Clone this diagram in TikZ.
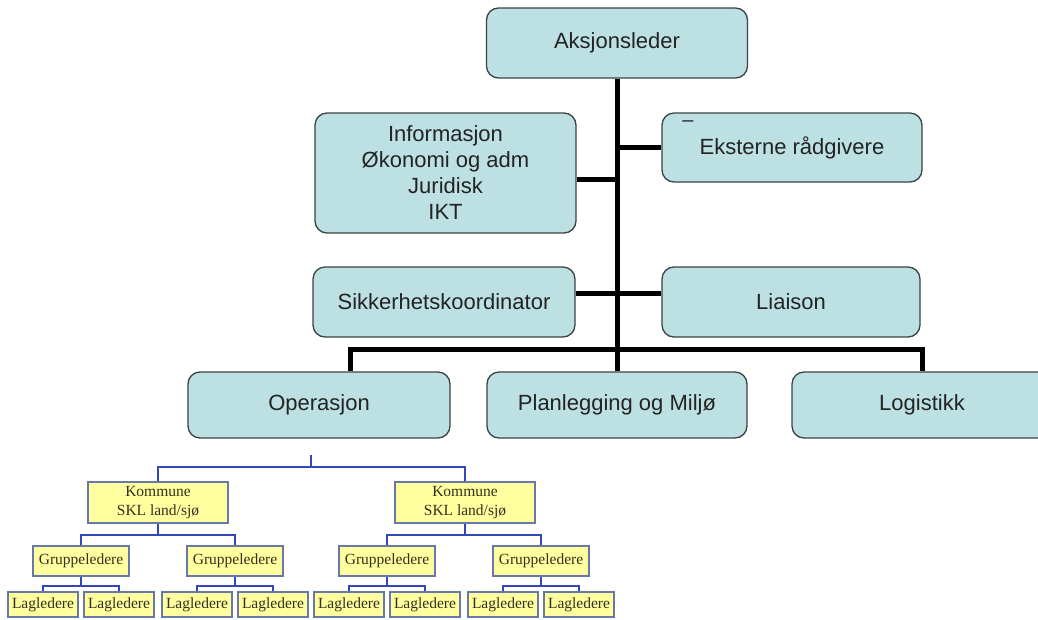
\documentclass[tikz,border=0pt]{standalone}
\usepackage{fontspec}
\setmainfont{Liberation Sans}
\newfontfamily\yelfont{Liberation Serif}

\definecolor{boxcyan}{RGB}{189,225,227}
\definecolor{boxline}{RGB}{60,66,68}
\definecolor{txtgray}{RGB}{35,35,35}
\definecolor{yelfill}{RGB}{255,255,160}
\definecolor{yelline}{RGB}{104,120,168}
\definecolor{orgblue}{RGB}{50,72,184}
\definecolor{yeltxt}{RGB}{50,48,25}

\begin{document}
\begin{tikzpicture}[x=1pt, y=-1pt,
    topbox/.style={draw=boxline, line width=1.3pt, fill=boxcyan, rounded corners=12pt,
        minimum width=261pt, minimum height=70pt, inner sep=0pt, align=center,
        text=txtgray, font=\fontsize{22}{26}\selectfont},
    yelbox/.style={draw=yelline, line width=1.5pt, fill=yelfill, inner sep=0pt,
        align=center, text=yeltxt, font=\yelfont\fontsize{15.5}{19}\selectfont},
    mainline/.style={black, line width=5pt},
    subline/.style={orgblue, line width=2pt}]

    % 1. Frame
    \clip (0,0) rectangle (1038,619);

    % 2. Upper boxes
    \node[topbox] (ak)   at (617,43)    {Aksjonsleder};
    \node[topbox, minimum height=120pt] (info) at (445.5,173)
        {Informasjon\\Økonomi og adm\\Juridisk\\IKT};
    \node[topbox, minimum width=260pt, minimum height=69pt] (ext) at (792,147.5)
        {Eksterne rådgivere};
    \node[text=txtgray, font=\fontsize{20}{24}\selectfont, inner sep=0pt] (extdash)
        at (688,124) {–};
    \node[topbox, minimum width=262pt] (sik) at (444,302) {Sikkerhetskoordinator};
    \node[topbox, minimum width=258pt] (lia) at (791,302) {Liaison};

    % 3. Sections
    \node[topbox, minimum width=262pt, minimum height=66pt] (op)   at (319,405) {Operasjon};
    \node[topbox, minimum width=260pt, minimum height=66pt] (plan) at (617,405) {Planlegging og Miljø};
    \node[topbox, minimum width=260pt, minimum height=66pt] (log)  at (922,405) {Logistikk};

    % 4. Black connectors
    \coordinate (infoC) at ([yshift=-6pt]info.east);
    \coordinate (bar)   at (617,349);
    \draw[mainline] (ak.south) -- (plan.north);
    \draw[mainline] (ext.west) -- (ext.west -| ak.south);
    \draw[mainline] (infoC) -- (infoC -| ak.south);
    \draw[mainline] ([yshift=9pt]sik.east) -- ([yshift=9pt]lia.west);
    \draw[mainline] ([xshift=31pt]op.north) |- (bar) -| (log.north);

    % 5. Yellow boxes under Operasjon
    \node[yelbox, minimum width=140pt, minimum height=41pt] (k1) at (158,502.5)
        {Kommune\\SKL land/sjø};
    \node[yelbox, minimum width=140pt, minimum height=41pt] (k2) at (465,502.5)
        {Kommune\\SKL land/sjø};
    \foreach \i/\x in {1/81, 2/235, 3/387, 4/541}
        \node[yelbox, minimum width=96pt, minimum height=30pt] (g\i) at (\x,561) {Gruppeledere};
    \foreach \i/\x in {1/43, 2/119, 3/197, 4/273, 5/349, 6/425, 7/503, 8/579}
        \node[yelbox, minimum width=70pt, minimum height=25pt] (l\i) at (\x,604.5) {Lagledere};

    % 6. Blue connectors
    \coordinate (opT) at (311,455);
    \coordinate (opB) at (311,467);
    \draw[subline] (opT) -- (opB);
    \draw[subline] (k1.north) |- (opB) -| (k2.north);
    \foreach \k/\a/\b in {k1/g1/g2, k2/g3/g4} {
        \draw[subline] (\k.south) -- ++(0,11) coordinate (\k m);
        \draw[subline] (\a.north) |- (\k m) -| (\b.north);
    }
    \foreach \g/\a/\b in {g1/l1/l2, g2/l3/l4, g3/l5/l6, g4/l7/l8} {
        \draw[subline] (\g.south) -- ++(0,9) coordinate (\g m);
        \draw[subline] (\a.north) |- (\g m) -| (\b.north);
    }
\end{tikzpicture}
\end{document}
